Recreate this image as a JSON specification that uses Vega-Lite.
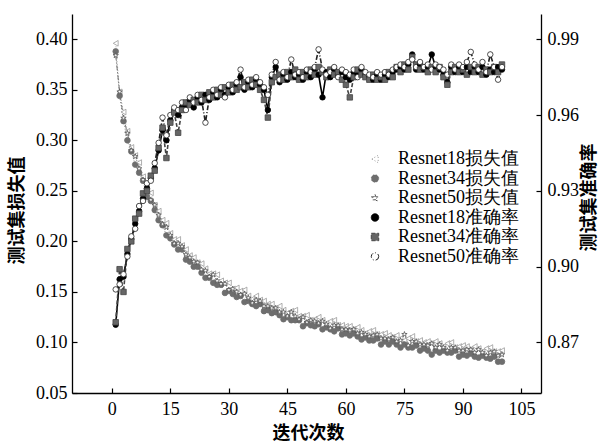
{
"$schema": "https://vega.github.io/schema/vega-lite/v6.json",
"width": 469, "height": 379,
"autosize": {"type": "none"},
"padding": {"left": 72, "top": 14, "right": 59, "bottom": 49},
"background": "white",
"data": {"values": [
{"e":1,"l18":0.396,"l34":0.388,"l50":0.384,"a18":0.877,"a34":0.878,"a50":0.891},
{"e":2,"l18":0.348,"l34":0.344,"l50":0.348,"a18":0.895,"a34":0.899,"a50":0.893},
{"e":3,"l18":0.328,"l34":0.319,"l50":0.322,"a18":0.896,"a34":0.890,"a50":0.897},
{"e":4,"l18":0.309,"l34":0.300,"l50":0.307,"a18":0.905,"a34":0.907,"a50":0.904},
{"e":5,"l18":0.293,"l34":0.289,"l50":0.290,"a18":0.911,"a34":0.910,"a50":0.912},
{"e":6,"l18":0.285,"l34":0.276,"l50":0.284,"a18":0.917,"a34":0.919,"a50":0.915},
{"e":7,"l18":0.278,"l34":0.268,"l50":0.272,"a18":0.922,"a34":0.921,"a50":0.924},
{"e":8,"l18":0.264,"l34":0.260,"l50":0.261,"a18":0.927,"a34":0.929,"a50":0.926},
{"e":9,"l18":0.254,"l34":0.244,"l50":0.253,"a18":0.931,"a34":0.930,"a50":0.933},
{"e":10,"l18":0.248,"l34":0.240,"l50":0.241,"a18":0.935,"a34":0.936,"a50":0.934},
{"e":11,"l18":0.236,"l34":0.231,"l50":0.236,"a18":0.939,"a34":0.938,"a50":0.941},
{"e":12,"l18":0.230,"l34":0.221,"l50":0.226,"a18":0.946,"a34":0.947,"a50":0.949},
{"e":13,"l18":0.221,"l34":0.216,"l50":0.217,"a18":0.954,"a34":0.955,"a50":0.959},
{"e":14,"l18":0.218,"l34":0.206,"l50":0.214,"a18":0.950,"a34":0.943,"a50":0.952},
{"e":15,"l18":0.208,"l34":0.203,"l50":0.206,"a18":0.958,"a34":0.957,"a50":0.960},
{"e":16,"l18":0.202,"l34":0.197,"l50":0.198,"a18":0.962,"a34":0.961,"a50":0.963},
{"e":17,"l18":0.202,"l34":0.192,"l50":0.198,"a18":0.960,"a34":0.953,"a50":0.962},
{"e":18,"l18":0.196,"l34":0.192,"l50":0.195,"a18":0.963,"a34":0.962,"a50":0.965},
{"e":19,"l18":0.192,"l34":0.182,"l50":0.187,"a18":0.964,"a34":0.965,"a50":0.962},
{"e":20,"l18":0.186,"l34":0.180,"l50":0.184,"a18":0.966,"a34":0.964,"a50":0.967},
{"e":21,"l18":0.184,"l34":0.175,"l50":0.180,"a18":0.963,"a34":0.966,"a50":0.965},
{"e":22,"l18":0.179,"l34":0.175,"l50":0.179,"a18":0.967,"a34":0.965,"a50":0.968},
{"e":23,"l18":0.178,"l34":0.169,"l50":0.172,"a18":0.965,"a34":0.968,"a50":0.966},
{"e":24,"l18":0.173,"l34":0.164,"l50":0.171,"a18":0.968,"a34":0.966,"a50":0.957},
{"e":25,"l18":0.168,"l34":0.164,"l50":0.165,"a18":0.966,"a34":0.969,"a50":0.967},
{"e":26,"l18":0.168,"l34":0.159,"l50":0.167,"a18":0.969,"a34":0.967,"a50":0.970},
{"e":27,"l18":0.167,"l34":0.157,"l50":0.161,"a18":0.967,"a34":0.970,"a50":0.968},
{"e":28,"l18":0.161,"l34":0.157,"l50":0.158,"a18":0.970,"a34":0.968,"a50":0.971},
{"e":29,"l18":0.159,"l34":0.149,"l50":0.158,"a18":0.968,"a34":0.971,"a50":0.967},
{"e":30,"l18":0.159,"l34":0.151,"l50":0.152,"a18":0.971,"a34":0.969,"a50":0.972},
{"e":31,"l18":0.153,"l34":0.148,"l50":0.153,"a18":0.969,"a34":0.972,"a50":0.970},
{"e":32,"l18":0.154,"l34":0.145,"l50":0.150,"a18":0.972,"a34":0.970,"a50":0.973},
{"e":33,"l18":0.151,"l34":0.146,"l50":0.147,"a18":0.975,"a34":0.971,"a50":0.978},
{"e":34,"l18":0.152,"l34":0.140,"l50":0.148,"a18":0.970,"a34":0.973,"a50":0.971},
{"e":35,"l18":0.146,"l34":0.141,"l50":0.144,"a18":0.973,"a34":0.971,"a50":0.974},
{"e":36,"l18":0.143,"l34":0.138,"l50":0.139,"a18":0.971,"a34":0.974,"a50":0.972},
{"e":37,"l18":0.146,"l34":0.136,"l50":0.142,"a18":0.974,"a34":0.972,"a50":0.975},
{"e":38,"l18":0.142,"l34":0.138,"l50":0.141,"a18":0.972,"a34":0.970,"a50":0.973},
{"e":39,"l18":0.141,"l34":0.131,"l50":0.136,"a18":0.970,"a34":0.966,"a50":0.971},
{"e":40,"l18":0.138,"l34":0.132,"l50":0.136,"a18":0.962,"a34":0.959,"a50":0.968},
{"e":41,"l18":0.138,"l34":0.129,"l50":0.134,"a18":0.975,"a34":0.973,"a50":0.976},
{"e":42,"l18":0.134,"l34":0.130,"l50":0.134,"a18":0.979,"a34":0.975,"a50":0.981},
{"e":43,"l18":0.136,"l34":0.127,"l50":0.130,"a18":0.973,"a34":0.976,"a50":0.974},
{"e":44,"l18":0.132,"l34":0.123,"l50":0.130,"a18":0.976,"a34":0.974,"a50":0.977},
{"e":45,"l18":0.129,"l34":0.125,"l50":0.126,"a18":0.974,"a34":0.977,"a50":0.975},
{"e":46,"l18":0.131,"l34":0.122,"l50":0.130,"a18":0.977,"a34":0.975,"a50":0.982},
{"e":47,"l18":0.132,"l34":0.122,"l50":0.126,"a18":0.975,"a34":0.978,"a50":0.976},
{"e":48,"l18":0.126,"l34":0.122,"l50":0.123,"a18":0.976,"a34":0.974,"a50":0.977},
{"e":49,"l18":0.126,"l34":0.116,"l50":0.125,"a18":0.974,"a34":0.977,"a50":0.975},
{"e":50,"l18":0.127,"l34":0.119,"l50":0.120,"a18":0.977,"a34":0.975,"a50":0.978},
{"e":51,"l18":0.122,"l34":0.117,"l50":0.122,"a18":0.975,"a34":0.978,"a50":0.977},
{"e":52,"l18":0.123,"l34":0.116,"l50":0.121,"a18":0.978,"a34":0.976,"a50":0.979},
{"e":53,"l18":0.125,"l34":0.118,"l50":0.119,"a18":0.976,"a34":0.979,"a50":0.986},
{"e":54,"l18":0.122,"l34":0.113,"l50":0.121,"a18":0.967,"a34":0.977,"a50":0.978},
{"e":55,"l18":0.119,"l34":0.115,"l50":0.118,"a18":0.977,"a34":0.975,"a50":0.976},
{"e":56,"l18":0.121,"l34":0.113,"l50":0.114,"a18":0.975,"a34":0.978,"a50":0.977},
{"e":57,"l18":0.122,"l34":0.111,"l50":0.117,"a18":0.978,"a34":0.976,"a50":0.979},
{"e":58,"l18":0.117,"l34":0.114,"l50":0.117,"a18":0.976,"a34":0.977,"a50":0.975},
{"e":59,"l18":0.117,"l34":0.108,"l50":0.113,"a18":0.977,"a34":0.974,"a50":0.978},
{"e":60,"l18":0.116,"l34":0.109,"l50":0.113,"a18":0.975,"a34":0.972,"a50":0.977},
{"e":61,"l18":0.116,"l34":0.107,"l50":0.112,"a18":0.974,"a34":0.967,"a50":0.976},
{"e":62,"l18":0.113,"l34":0.109,"l50":0.113,"a18":0.977,"a34":0.975,"a50":0.978},
{"e":63,"l18":0.115,"l34":0.106,"l50":0.109,"a18":0.976,"a34":0.978,"a50":0.975},
{"e":64,"l18":0.112,"l34":0.103,"l50":0.110,"a18":0.978,"a34":0.976,"a50":0.979},
{"e":65,"l18":0.109,"l34":0.105,"l50":0.108,"a18":0.976,"a34":0.975,"a50":0.977},
{"e":66,"l18":0.111,"l34":0.102,"l50":0.106,"a18":0.975,"a34":0.974,"a50":0.976},
{"e":67,"l18":0.112,"l34":0.102,"l50":0.107,"a18":0.974,"a34":0.976,"a50":0.975},
{"e":68,"l18":0.108,"l34":0.104,"l50":0.108,"a18":0.976,"a34":0.974,"a50":0.977},
{"e":69,"l18":0.108,"l34":0.098,"l50":0.104,"a18":0.974,"a34":0.975,"a50":0.976},
{"e":70,"l18":0.109,"l34":0.101,"l50":0.104,"a18":0.976,"a34":0.974,"a50":0.977},
{"e":71,"l18":0.107,"l34":0.098,"l50":0.103,"a18":0.975,"a34":0.977,"a50":0.976},
{"e":72,"l18":0.105,"l34":0.101,"l50":0.105,"a18":0.977,"a34":0.975,"a50":0.978},
{"e":73,"l18":0.107,"l34":0.098,"l50":0.101,"a18":0.978,"a34":0.979,"a50":0.979},
{"e":74,"l18":0.104,"l34":0.095,"l50":0.102,"a18":0.979,"a34":0.977,"a50":0.980},
{"e":75,"l18":0.102,"l34":0.098,"l50":0.108,"a18":0.978,"a34":0.980,"a50":0.979},
{"e":76,"l18":0.104,"l34":0.095,"l50":0.097,"a18":0.980,"a34":0.978,"a50":0.981},
{"e":77,"l18":0.106,"l34":0.095,"l50":0.101,"a18":0.984,"a34":0.983,"a50":0.982},
{"e":78,"l18":0.101,"l34":0.097,"l50":0.101,"a18":0.978,"a34":0.980,"a50":0.979},
{"e":79,"l18":0.102,"l34":0.092,"l50":0.098,"a18":0.980,"a34":0.978,"a50":0.981},
{"e":80,"l18":0.100,"l34":0.094,"l50":0.098,"a18":0.978,"a34":0.979,"a50":0.979},
{"e":81,"l18":0.101,"l34":0.092,"l50":0.097,"a18":0.979,"a34":0.977,"a50":0.980},
{"e":82,"l18":0.099,"l34":0.088,"l50":0.099,"a18":0.984,"a34":0.979,"a50":0.978},
{"e":83,"l18":0.101,"l34":0.092,"l50":0.095,"a18":0.979,"a34":0.977,"a50":0.980},
{"e":84,"l18":0.099,"l34":0.090,"l50":0.098,"a18":0.978,"a34":0.979,"a50":0.979},
{"e":85,"l18":0.096,"l34":0.092,"l50":0.095,"a18":0.976,"a34":0.975,"a50":0.978},
{"e":86,"l18":0.099,"l34":0.090,"l50":0.092,"a18":0.973,"a34":0.972,"a50":0.976},
{"e":87,"l18":0.100,"l34":0.090,"l50":0.095,"a18":0.979,"a34":0.977,"a50":0.980},
{"e":88,"l18":0.095,"l34":0.092,"l50":0.095,"a18":0.977,"a34":0.979,"a50":0.978},
{"e":89,"l18":0.096,"l34":0.086,"l50":0.092,"a18":0.979,"a34":0.977,"a50":0.980},
{"e":90,"l18":0.097,"l34":0.088,"l50":0.092,"a18":0.977,"a34":0.978,"a50":0.979},
{"e":91,"l18":0.096,"l34":0.087,"l50":0.093,"a18":0.979,"a34":0.976,"a50":0.981},
{"e":92,"l18":0.093,"l34":0.089,"l50":0.093,"a18":0.977,"a34":0.979,"a50":0.985},
{"e":93,"l18":0.096,"l34":0.086,"l50":0.090,"a18":0.979,"a34":0.977,"a50":0.980},
{"e":94,"l18":0.094,"l34":0.085,"l50":0.093,"a18":0.977,"a34":0.979,"a50":0.978},
{"e":95,"l18":0.091,"l34":0.087,"l50":0.090,"a18":0.979,"a34":0.976,"a50":0.981},
{"e":96,"l18":0.094,"l34":0.085,"l50":0.087,"a18":0.976,"a34":0.978,"a50":0.977},
{"e":97,"l18":0.095,"l34":0.084,"l50":0.090,"a18":0.978,"a34":0.977,"a50":0.984},
{"e":98,"l18":0.091,"l34":0.086,"l50":0.091,"a18":0.977,"a34":0.979,"a50":0.979},
{"e":99,"l18":0.091,"l34":0.081,"l50":0.087,"a18":0.979,"a34":0.977,"a50":0.974},
{"e":100,"l18":0.092,"l34":0.081,"l50":0.088,"a18":0.978,"a34":0.980,"a50":0.979}
]},
"encoding": {
  "x": {"field": "e", "type": "quantitative",
        "scale": {"domain": [-10.2, 110], "nice": false, "zero": false},
        "axis": {"values": [0,15,30,45,60,75,90,105], "title": "迭代次数", "labelPadding": 12,
                 "titleX": 236, "titleY": 40, "titleBaseline": "middle", "titleAlign": "center"}}
},
"layer": [
  {
    "transform": [{"fold": ["l18","l34","l50"], "as": ["k","v"]}],
    "encoding": {
      "y": {"field": "v", "type": "quantitative",
            "scale": {"domain": [0.05, 0.425], "nice": false, "zero": false},
            "axis": {"orient": "left", "values": [0.05,0.10,0.15,0.20,0.25,0.30,0.35,0.40], "format": ".2f",
                     "title": "测试集损失值", "labelPadding": 10, "titleAngle": -90,
                     "titleX": -55, "titleY": 196, "titleBaseline": "middle", "titleAlign": "center"}}
    },
    "layer": [
      {"mark": {"type": "line", "strokeWidth": 0.8},
       "encoding": {
         "stroke": {"field": "k", "type": "nominal", "scale": {"domain": ["l18","l34","l50","a18","a34","a50"], "range": ["#9a9a9a","#6e6e6e","#555555","#000000","#444444","#222222"]},
                    "legend": {"title": null, "labelExpr": "{'l18':'Resnet18损失值','l34':'Resnet34损失值','l50':'Resnet50损失值','a18':'Resnet18准确率','a34':'Resnet34准确率','a50':'Resnet50准确率'}[datum.label]"}},
         "strokeDash": {"field": "k", "type": "nominal", "scale": {"domain": ["l18","l34","l50","a18","a34","a50"], "range": [[1,2],[1,2],[5,2,1,2],[1,0],[4,2],[5,2,1,2]]}, "legend": null}
       }},
      {"mark": {"type": "point", "filled": true, "size": 32, "strokeWidth": 0.8, "opacity": 1},
       "encoding": {
         "stroke": {"field": "k", "type": "nominal",
                    "legend": {"title": null, "labelExpr": "{'l18':'Resnet18损失值','l34':'Resnet34损失值','l50':'Resnet50损失值','a18':'Resnet18准确率','a34':'Resnet34准确率','a50':'Resnet50准确率'}[datum.label]"}},
         "fill": {"field": "k", "type": "nominal", "scale": {"domain": ["l18","l34","l50","a18","a34","a50"], "range": ["#ffffff","#6e6e6e","#ffffff","#000000","#666666","#ffffff"]},
                  "legend": {"title": null, "labelExpr": "{'l18':'Resnet18损失值','l34':'Resnet34损失值','l50':'Resnet50损失值','a18':'Resnet18准确率','a34':'Resnet34准确率','a50':'Resnet50准确率'}[datum.label]"}},
         "shape": {"field": "k", "type": "nominal", "scale": {"domain": ["l18","l34","l50","a18","a34","a50"], "range": ["triangle-left","circle","M0,-1L0.2245,-0.309L0.951,-0.309L0.363,0.118L0.588,0.809L0,0.382L-0.588,0.809L-0.363,0.118L-0.951,-0.309L-0.2245,-0.309Z","circle","square","circle"]},
                   "legend": {"title": null, "labelExpr": "{'l18':'Resnet18损失值','l34':'Resnet34损失值','l50':'Resnet50损失值','a18':'Resnet18准确率','a34':'Resnet34准确率','a50':'Resnet50准确率'}[datum.label]"}}
       }}
    ]
  },
  {
    "transform": [{"fold": ["a18","a34","a50"], "as": ["k","v"]}],
    "encoding": {
      "y": {"field": "v", "type": "quantitative",
            "scale": {"domain": [0.85, 1.0], "nice": false, "zero": false},
            "axis": {"orient": "right", "values": [0.87,0.90,0.93,0.96,0.99], "format": ".2f",
                     "title": "测试集准确率", "labelPadding": 11, "titleAngle": -90,
                     "titleX": 48, "titleY": 183, "titleBaseline": "middle", "titleAlign": "center"}}
    },
    "layer": [
      {"mark": {"type": "line", "strokeWidth": 1.6},
       "encoding": {
         "stroke": {"field": "k", "type": "nominal"},
         "strokeDash": {"field": "k", "type": "nominal", "legend": null}
       }},
      {"mark": {"type": "point", "filled": true, "size": 30, "strokeWidth": 0.8, "opacity": 1},
       "encoding": {
         "stroke": {"field": "k", "type": "nominal"},
         "fill": {"field": "k", "type": "nominal"},
         "shape": {"field": "k", "type": "nominal"}
       }}
    ]
  }
],
"resolve": {"scale": {"y": "independent"}},
"config": {
  "view": {"stroke": null},
  "font": "Liberation Serif",
  "axis": {"grid": false, "domainColor": "black", "domainWidth": 1.3, "tickColor": "black", "tickSize": -5, "tickWidth": 1.2,
           "labelFont": "Liberation Serif", "labelFontSize": 18, "labelColor": "black",
           "titleFont": "Noto Sans CJK SC", "titleFontSize": 18, "titleFontWeight": "bold", "titleColor": "black"},
  "legend": {"orient": "none", "legendX": 294, "legendY": 136, "padding": 0, "rowPadding": 1.5,
             "labelFont": "Liberation Serif", "labelFontSize": 18, "labelColor": "black", "labelOffset": 14, "labelLimit": 0,
             "symbolSize": 55, "symbolStrokeWidth": 1}
}
}
